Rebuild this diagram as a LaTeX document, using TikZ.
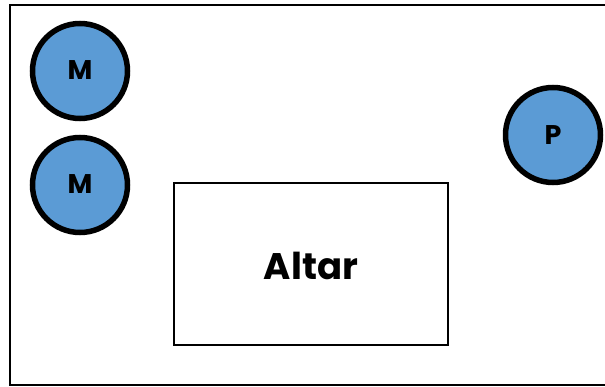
\documentclass[tikz,border=0pt]{standalone}
\usepackage{fontspec}
\setmainfont{Poppins}
\definecolor{seatblue}{HTML}{5B9BD5}
\begin{document}
\begin{tikzpicture}[x=1pt,y=-1pt,
  seat/.style={circle,draw=black,line width=5.5pt,fill=seatblue,minimum size=95pt,inner sep=0pt,font=\fontsize{27}{27}\selectfont\bfseries},
  wall/.style={draw=black,line width=2.8pt},
  label/.style={inner sep=0pt,font=\fontsize{37}{37}\selectfont\bfseries}]
\useasboundingbox (0,0) rectangle (605,387);
\clip (0,0) rectangle (605,387);
\coordinate (roomnw) at (10,5);
\coordinate (roomse) at (640,385);
\draw[wall] (roomnw) rectangle (roomse);
\coordinate (altarnw) at (174,183);
\coordinate (altarse) at (448,345);
\draw[wall] (altarnw) rectangle (altarse);
\node[label] (altar) at (311,266) {Altar};
\node[seat] (m1) at (80,71) {\raisebox{2pt}{M}};
\node[seat] (m2) at (80,185) {\raisebox{2pt}{M}};
\node[seat] (p) at (553,135) {P};
\end{tikzpicture}
\end{document}
